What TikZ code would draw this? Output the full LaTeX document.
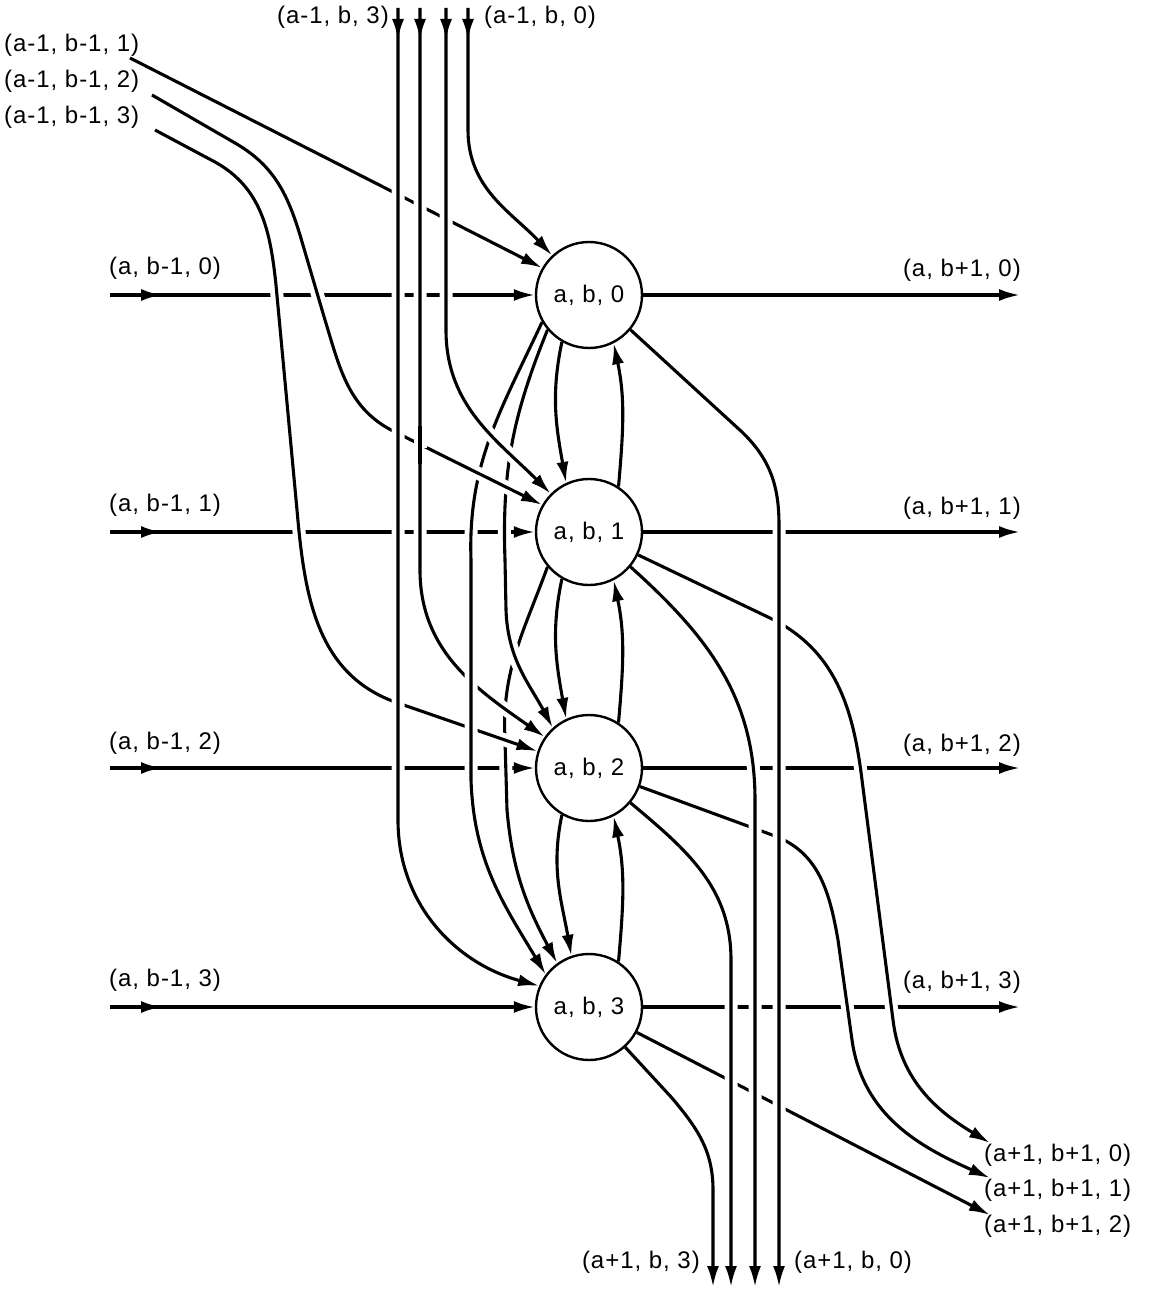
\documentclass[tikz,border=0pt]{standalone}
\usepackage{fontspec}
\setmainfont{Liberation Sans}[LetterSpace=4]
\usetikzlibrary{arrows.meta,decorations.markings}

\begin{document}
\begin{tikzpicture}[x=1pt,y=-1pt,>={Latex[length=21pt,width=12pt]},
    cell/.style={draw, shape=circle, line width=2.4pt, fill=white, minimum size=106pt, inner sep=0pt, font=\fontsize{24}{27}\selectfont},
    lbl/.style={inner sep=0pt, font=\fontsize{24}{27}\selectfont},
    wire/.style={line width=3.1pt, preaction={draw=white, arrows=-, line width=13pt, shorten <=22pt, shorten >=24pt}},
    feed/.style={postaction={decorate}, decoration={markings, mark=at position #1 with {\arrow{>}}}}]
    \useasboundingbox (0,0) rectangle (1151,1292);

    \node[cell] (n0) at (589,295) {a, b, 0};
    \node[cell] (n1) at (589,532) {a, b, 1};
    \node[cell] (n2) at (589,768) {a, b, 2};
    \node[cell] (n3) at (589,1007) {a, b, 3};

    \node[lbl, anchor=west] (l-s1) at (4,45) {(a-1, b-1, 1)};
    \node[lbl, anchor=west] (l-s2) at (4,81) {(a-1, b-1, 2)};
    \node[lbl, anchor=west] (l-s3) at (4,117) {(a-1, b-1, 3)};
    \node[lbl, anchor=east] (l-t3) at (389,17) {(a-1, b, 3)};
    \node[lbl, anchor=west] (l-t0) at (484,17) {(a-1, b, 0)};
    \node[lbl, anchor=west] (l-i0) at (109,268) {(a, b-1, 0)};
    \node[lbl, anchor=west] (l-i1) at (109,505) {(a, b-1, 1)};
    \node[lbl, anchor=west] (l-i2) at (109,743) {(a, b-1, 2)};
    \node[lbl, anchor=west] (l-i3) at (109,980) {(a, b-1, 3)};
    \node[lbl, anchor=east] (l-o0) at (1021,270) {(a, b+1, 0)};
    \node[lbl, anchor=east] (l-o1) at (1021,508) {(a, b+1, 1)};
    \node[lbl, anchor=east] (l-o2) at (1021,745) {(a, b+1, 2)};
    \node[lbl, anchor=east] (l-o3) at (1021,982) {(a, b+1, 3)};
    \node[lbl, anchor=west] (l-r0) at (984,1155) {(a+1, b+1, 0)};
    \node[lbl, anchor=west] (l-r1) at (984,1190) {(a+1, b+1, 1)};
    \node[lbl, anchor=west] (l-r2) at (984,1226) {(a+1, b+1, 2)};
    \node[lbl, anchor=east] (l-b3) at (700,1262) {(a+1, b, 3)};
    \node[lbl, anchor=west] (l-b0) at (794,1262) {(a+1, b, 0)};

    \coordinate (s1) at (130,58);
    \coordinate (s2) at (152,95);
    \coordinate (s3) at (155,130);
    \coordinate (t3) at (398,8);
    \coordinate (t2) at (420,8);
    \coordinate (t1) at (446,8);
    \coordinate (t0) at (468,8);
    \coordinate (i0) at (110,295);
    \coordinate (i1) at (110,532);
    \coordinate (i2) at (110,768);
    \coordinate (i3) at (110,1007);
    \coordinate (o0) at (1020,295);
    \coordinate (o1) at (1020,532);
    \coordinate (o2) at (1020,768);
    \coordinate (o3) at (1020,1007);
    \coordinate (r0) at (990,1143);
    \coordinate (r1) at (990,1178);
    \coordinate (r2) at (990,1215);
    \coordinate (b3) at (713,1287);
    \coordinate (b2) at (731,1287);
    \coordinate (b1) at (755,1287);
    \coordinate (b0) at (779,1287);

    \draw[wire,feed=52pt,->] (i0) -- (n0.west);
    \draw[wire,feed=52pt,->] (i1) -- (n1.west);
    \draw[wire,feed=52pt,->] (i2) -- (n2.west);
    \draw[wire,feed=52pt,->] (i3) -- (n3.west);
    \draw[wire,->] (s1) -- (n0.150);
    \draw[wire,->] (n1.220) to[out=250,in=93] (505,740) -- (507,810) to[out=-85,in=118] (n3.126);
    \draw[wire,->] (n0.220) to[out=248,in=92] (505,560) -- (506,610) to[out=-88,in=118] (n2.132);
    \draw[wire,->] (s3) -- (215,162) to[out=-29,in=96] (276,285) -- (297,510) to[out=-85,in=160] (395,702) -- (n2.162);
    \draw[wire,feed=32pt,->] (t2) -- (420,570) to[out=-90,in=145] (n2.145);
    \draw[wire,->] (n0.210) to[out=245,in=92] (471,560) -- (471,780) to[out=-88,in=121] (n3.143);
    \draw[wire,->] (s2) -- (235,143) to[out=-30,in=107] (300,235) -- (325,320) to[out=-73,in=154] (395,432) -- (n1.150);
    \draw[wire,feed=32pt,->] (t1) -- (446,330) to[out=-90,in=135] (n1.135);
    \draw[wire,feed=32pt,->] (t3) -- (398,820) to[out=-90,in=165] (n3.157);
    \draw[wire,feed=32pt,->] (t0) -- (468,130) to[out=-90,in=133] (n0.133);
    \draw[wire] (420,426) -- (420,464);

    \draw[wire,->] (n0.240) to[out=258,in=100] (n1.115);
    \draw[wire,->] (n1.240) to[out=258,in=100] (n2.115);
    \draw[wire,->] (n2.240) to[out=258,in=100] (n3.109);
    \draw[wire,->] (n1.57) to[out=85,in=-78] (n0.297);
    \draw[wire,->] (n2.57) to[out=85,in=-78] (n1.297);
    \draw[wire,->] (n3.57) to[out=85,in=-78] (n2.297);

    \draw[wire,->] (n0.east) -- (o0);
    \draw[wire,->] (n1.east) -- (o1);
    \draw[wire,->] (n2.east) -- (o2);
    \draw[wire,->] (n3.east) -- (o3);
    \draw[wire,->] (n3.-28) -- (r2);
    \draw[wire,->] (n1.-25) -- (770,618) to[out=-26,in=97] (862,780) -- (893,1020) to[out=-83,in=149] (r0);
    \draw[wire,->] (n2.-20) -- (775,836) to[out=-21,in=100] (838,940) -- (852,1040) to[out=-82,in=156] (r1);
    \draw[wire,->] (n3.-48) -- (672,1098) to[out=-50,in=90] (713,1190) -- (b3);
    \draw[wire,->] (n2.-40) to[out=-40,in=90] (731,960) -- (b2);
    \draw[wire,->] (n1.-40) to[out=-42,in=90] (755,800) -- (b1);
    \draw[wire,->] (n0.-40) -- (742,432) to[out=-44,in=90] (779,525) -- (b0);
\end{tikzpicture}
\end{document}
